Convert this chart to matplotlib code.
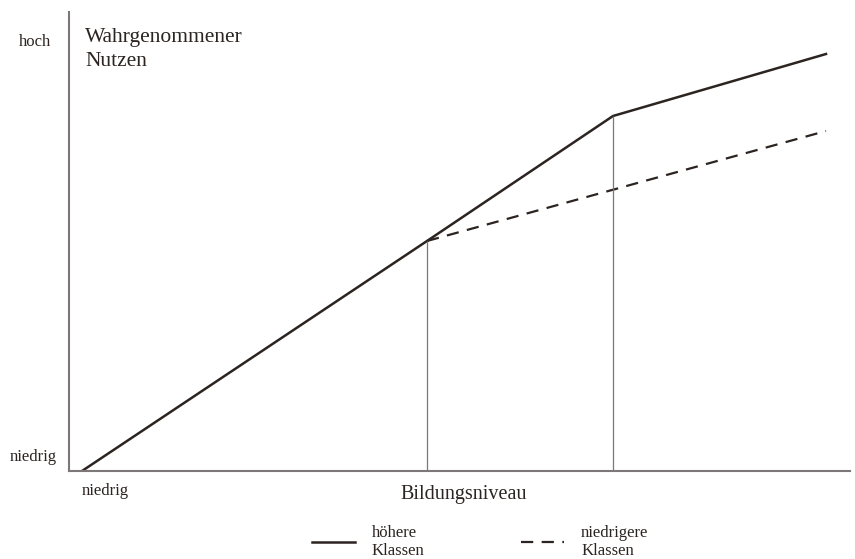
import matplotlib.pyplot as plt

# Data (arbitrary units)
x_hoehere = [13, 358, 544, 757]
y_hoehere = [0, 230, 355, 417]
x_niedrig = [358, 757]
y_niedrig = [230, 340]
x_marks = [358, 544]
y_marks = [230, 355]

LINE_COLOR = '#2b2420'
AXIS_COLOR = '#7d7777'
TEXT_COLOR = '#2b2420'

plt.rcParams['font.family'] = ['Liberation Serif', 'DejaVu Serif']

fig = plt.figure(figsize=(8.55, 5.59), dpi=100)
ax = fig.add_axes([69 / 855, 88 / 559, 781 / 855, 459 / 559])
ax.set_xlim(0, 781)
ax.set_ylim(0, 459)

ax.plot(x_hoehere, y_hoehere, color=LINE_COLOR, lw=1.8, label='höhere\nKlassen',
        solid_joinstyle='miter')
ax.plot(x_niedrig, y_niedrig, color=LINE_COLOR, lw=1.6, ls=(0, (5.5, 3.8)),
        label='niedrigere\nKlassen')
ax.vlines(x_marks, 0, y_marks, color=AXIS_COLOR, lw=0.9)

for side in ['top', 'right']:
    ax.spines[side].set_visible(False)
for side in ['left', 'bottom']:
    ax.spines[side].set_color(AXIS_COLOR)
    ax.spines[side].set_linewidth(1.5)
ax.set_xticks([])
ax.set_yticks([])

# axis annotations
fig.text(35 / 855, 1 - 42 / 559, 'hoch', ha='center', va='center', fontsize=12, color=TEXT_COLOR)
fig.text(33 / 855, 1 - 457 / 559, 'niedrig', ha='center', va='center', fontsize=12, color=TEXT_COLOR)
fig.text(82 / 855, 1 - 491 / 559, 'niedrig', ha='left', va='center', fontsize=12, color=TEXT_COLOR)
fig.text(85 / 855, 1 - 28 / 559, 'Wahrgenommener\nNutzen', ha='left', va='top', fontsize=15.5,
         color=TEXT_COLOR, linespacing=1.35)
fig.text(464 / 855, 1 - 494 / 559, 'Bildungsniveau', ha='center', va='center', fontsize=14.5,
         color=TEXT_COLOR)

leg = fig.legend(loc='center', bbox_to_anchor=(480 / 855, 1 - 542 / 559), ncol=2, frameon=False,
                 fontsize=12, handlelength=2.6, handletextpad=1.0, columnspacing=5.8)
for t in leg.get_texts():
    t.set_color(TEXT_COLOR)
    t.set_linespacing(1.15)

fig.savefig('out.png', dpi=100, facecolor='white')
